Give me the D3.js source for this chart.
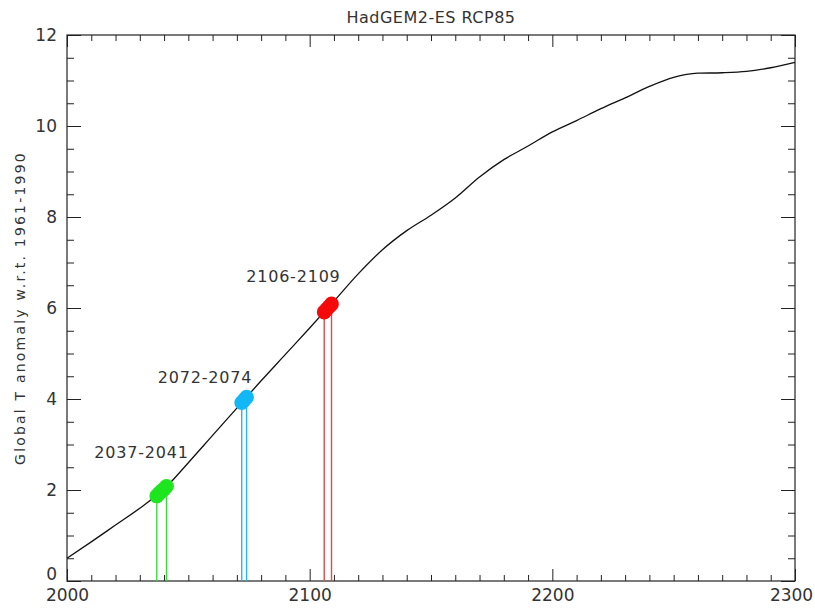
<!DOCTYPE html>
<html>
<head>
<meta charset="utf-8">
<script src="https://cdn.jsdelivr.net/npm/d3@7"></script>
<style>
  html, body { margin: 0; padding: 0; background: #fff; }
  svg { display: block; }
  text { font-family: "DejaVu Sans", sans-serif; fill: #333; }
</style>
</head>
<body>
<svg id="chart" width="815" height="610"></svg>
<script>
// ---------- data ----------
const title = "HadGEM2-ES RCP85";
const yLabel = "Global T anomaly w.r.t. 1961-1990";

const years = [2000, 2010, 2020, 2030, 2040, 2050, 2060, 2070, 2080, 2090,
               2100, 2110, 2120, 2130, 2140, 2150, 2160, 2170, 2180, 2190,
               2200, 2210, 2220, 2230, 2240, 2250, 2260, 2270, 2280, 2290, 2300];
const temps = [0.50, 0.86, 1.23, 1.60, 2.02, 2.60, 3.20, 3.80, 4.40, 4.98,
               5.56, 6.15, 6.75, 7.28, 7.70, 8.04, 8.42, 8.88, 9.26, 9.56,
               9.87, 10.12, 10.38, 10.62, 10.87, 11.07, 11.16, 11.17, 11.20, 11.28, 11.40];

const periodLabels = ["2037-2041", "2072-2074", "2106-2109"];
const periodStart = [2037, 2072, 2106];
const periodEnd = [2041, 2074, 2109];
const blobYears = [[2037, 2038, 2039, 2040, 2041], [2072, 2073, 2074], [2106, 2107, 2108, 2109]];
const blobTemps = [[1.87, 1.93, 1.98, 2.02, 2.08], [3.92, 3.98, 4.04], [5.91, 5.97, 6.03, 6.09]];
const labelYear = [2030.7, 2056.9, 2093.3];
const labelTemp = [2.70, 4.35, 6.57];

const xTickValues = [2000, 2100, 2200, 2300];
const yTickValues = [0, 2, 4, 6, 8, 10, 12];

// ---------- styles ----------
const fillColors = ["#1ee61e", "#12b8f5", "#f50a0a"];
const lineColors = ["#3ddc3d", "#2ab2ee", "#e24a4a"];

// ---------- layout ----------
const svg = d3.select("#chart");
const margin = {left: 67, right: 20, top: 35, bottom: 29};
const W = 815, H = 610;
const x = d3.scaleLinear().domain([2000, 2300]).range([margin.left, W - margin.right]);
const y = d3.scaleLinear().domain([0, 12]).range([H - margin.bottom, margin.top]);

const minorX = d3.range(2000, 2301, 10).filter(v => !xTickValues.includes(v));
const minorY = d3.range(0, 12.01, 0.5).filter(v => !yTickValues.includes(v));

function styleAxis(g) {
  g.select(".domain").remove();
  g.selectAll(".tick line").attr("stroke", "#222").attr("stroke-width", 1);
}

// bottom
const xAxisG = svg.append("g").attr("transform", `translate(0,${y(0)})`)
  .call(d3.axisBottom(x).tickValues(xTickValues).tickSize(-12).tickPadding(8).tickFormat(d3.format("d")))
  .call(styleAxis);
xAxisG.selectAll("text").style("font-size", "17px").style("font-family", "DejaVu Sans").attr("fill", "#333")
  .attr("dx", d => d === 2300 ? -4 : 0);
svg.append("g").attr("transform", `translate(0,${y(0)})`)
  .call(d3.axisBottom(x).tickValues(minorX).tickSize(-6).tickFormat(""))
  .call(styleAxis);
// top
svg.append("g").attr("transform", `translate(0,${y(12)})`)
  .call(d3.axisTop(x).tickValues(xTickValues).tickSize(-12).tickFormat(""))
  .call(styleAxis);
svg.append("g").attr("transform", `translate(0,${y(12)})`)
  .call(d3.axisTop(x).tickValues(minorX).tickSize(-6).tickFormat(""))
  .call(styleAxis);
// left
svg.append("g").attr("transform", `translate(${x(2000)},0)`)
  .call(d3.axisLeft(y).tickValues(yTickValues).tickSize(-14).tickPadding(10).tickFormat(d3.format("d")))
  .call(styleAxis)
  .selectAll("text").style("font-size", "17px").style("font-family", "DejaVu Sans").attr("fill", "#333")
  .attr("dy", d => d === 0 ? "-0.08em" : "0.32em");
svg.append("g").attr("transform", `translate(${x(2000)},0)`)
  .call(d3.axisLeft(y).tickValues(minorY).tickSize(-7).tickFormat(""))
  .call(styleAxis);
// right
svg.append("g").attr("transform", `translate(${x(2300)},0)`)
  .call(d3.axisRight(y).tickValues(yTickValues).tickSize(-14).tickFormat(""))
  .call(styleAxis);
svg.append("g").attr("transform", `translate(${x(2300)},0)`)
  .call(d3.axisRight(y).tickValues(minorY).tickSize(-7).tickFormat(""))
  .call(styleAxis);

// frame
svg.append("rect")
  .attr("x", x(2000)).attr("y", y(12))
  .attr("width", x(2300) - x(2000)).attr("height", y(0) - y(12))
  .attr("fill", "none").attr("stroke", "#222").attr("stroke-width", 1.2);

// vertical period lines
periodLabels.forEach((lab, i) => {
  const ends = [0, blobYears[i].length - 1];
  ends.forEach(k => {
    svg.append("line")
      .attr("x1", x(blobYears[i][k])).attr("x2", x(blobYears[i][k]))
      .attr("y1", y(blobTemps[i][k])).attr("y2", y(0))
      .attr("stroke", lineColors[i]).attr("stroke-width", 1.4);
  });
});

// curve
const line = d3.line().x((d, i) => x(years[i])).y((d, i) => y(temps[i])).curve(d3.curveMonotoneX);
svg.append("path").datum(temps)
  .attr("d", line)
  .attr("fill", "none").attr("stroke", "#111").attr("stroke-width", 1.3);

// blobs
periodLabels.forEach((lab, i) => {
  svg.append("g").selectAll("circle")
    .data(blobYears[i])
    .join("circle")
    .attr("cx", d => x(d))
    .attr("cy", (d, k) => y(blobTemps[i][k]))
    .attr("r", 7.4)
    .attr("fill", fillColors[i]);
  svg.append("text")
    .attr("x", x(labelYear[i])).attr("y", y(labelTemp[i]))
    .attr("text-anchor", "middle")
    .style("font-size", "16px").style("letter-spacing", "0.8px")
    .text(lab);
});

// title
svg.append("text")
  .attr("x", (x(2000) + x(2300)) / 2).attr("y", 23)
  .attr("text-anchor", "middle")
  .style("font-size", "16px").style("letter-spacing", "0.5px")
  .text(title);

// y label
svg.append("text")
  .attr("transform", `translate(25,${(y(0) + y(12)) / 2}) rotate(-90)`)
  .attr("text-anchor", "middle")
  .style("font-size", "14px").style("letter-spacing", "2.2px")
  .text(yLabel);
</script>
</body>
</html>
